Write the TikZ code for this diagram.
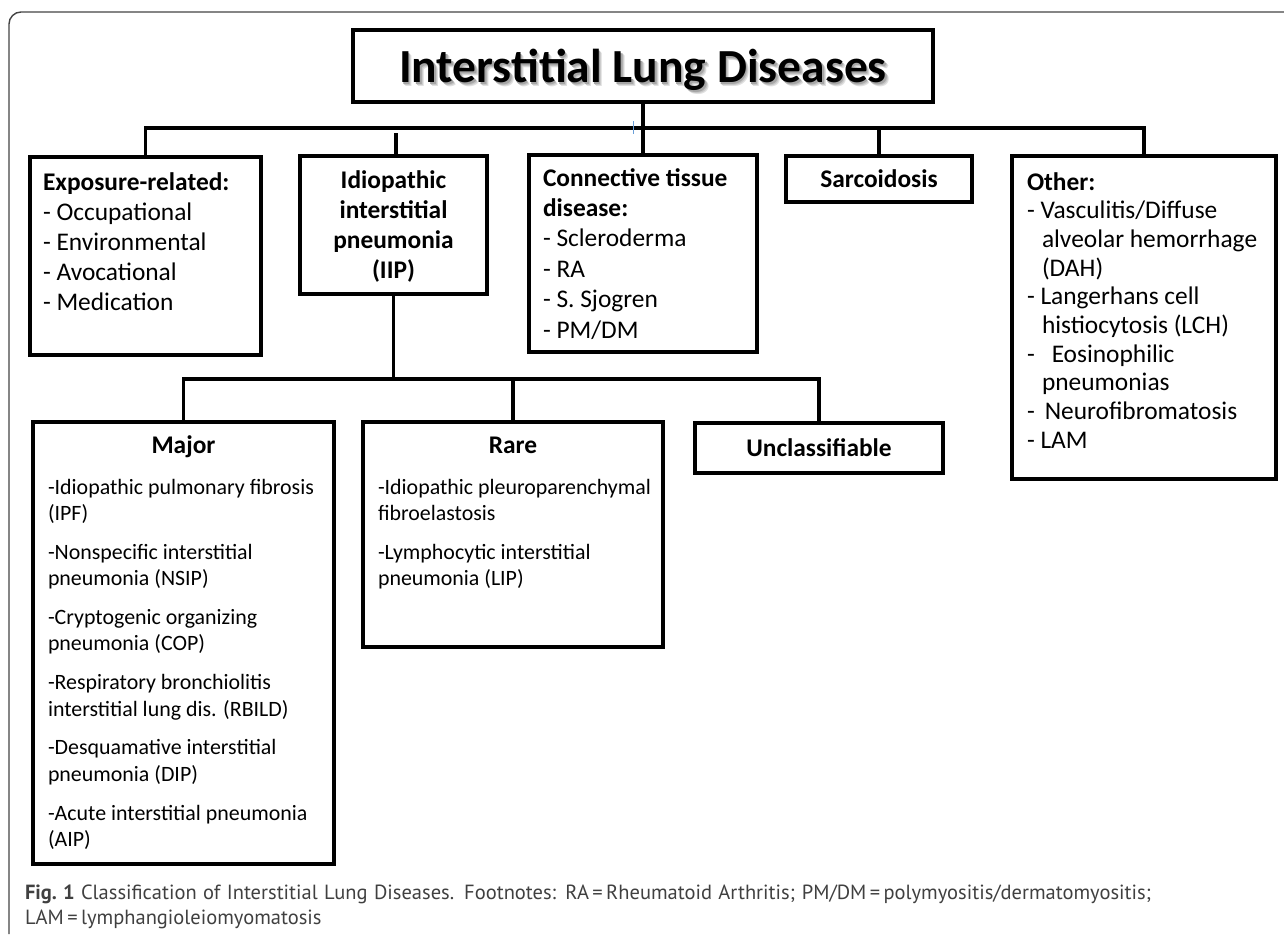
\documentclass[tikz,border=0pt]{standalone}
\usepackage{fontspec}
\setmainfont{Carlito}
\newfontfamily\capfont{PT Sans}
\definecolor{capgray}{HTML}{404040}
\definecolor{frame}{HTML}{444444}
\definecolor{tick}{HTML}{6A9FD8}
\newcommand{\ttltext}{Interstitial Lung Diseases}
\newcommand{\shadowlayer}[3]{\rlap{\hspace{#1pt}\raisebox{-#2pt}{\color{#3}\ttltext}}}
\begin{document}
\begin{tikzpicture}[x=1pt,y=-1pt,
  boxst/.style={draw, line width=3.6pt, inner sep=0, outer sep=0, anchor=north west},
  conn/.style={line width=3.8pt, line cap=rect},
  txt/.style={inner sep=0, outer sep=0, anchor=base west},
  ctxt/.style={inner sep=0, outer sep=0, anchor=base},
  titlefont/.style={font=\fontsize{47.5}{52}\selectfont\bfseries},
]
\useasboundingbox (0,0) rectangle (1284,934);
% outer frame
\draw[frame, line width=1.4pt, rounded corners=12pt] (9,934) -- (9,12) -- (1284,12);

% boxes
\node[boxst, minimum width=580pt, minimum height=72pt] (title) at (353,30) {};
\node[boxst, minimum width=231pt, minimum height=198pt] (expo) at (30,157) {};
\node[boxst, minimum width=187pt, minimum height=138pt] (iip) at (300,156) {};
\node[boxst, minimum width=228pt, minimum height=197pt] (ctd) at (529,155) {};
\node[boxst, minimum width=186pt, minimum height=46pt] (sarc) at (786,156) {};
\node[boxst, minimum width=264pt, minimum height=323pt] (other) at (1012,156) {};
\node[boxst, minimum width=301pt, minimum height=442pt] (major) at (33,422) {};
\node[boxst, minimum width=300pt, minimum height=225pt] (rare) at (363,422) {};
\node[boxst, minimum width=248pt, minimum height=50pt] (uncl) at (695,423) {};

% bus coordinates
\coordinate (busA) at (0,128);
\coordinate (busB) at (0,379);

% connectors
\draw[conn] (title.south) -- (ctd.north);
\draw[conn] (expo.north) -- (expo.north |- busA) -| (other.north);
\draw[conn] (sarc.north) -- (sarc.north |- busA);
\draw[conn] ([xshift=2.5pt]iip.north) -- ++(0,-21);
\draw[conn] (iip.south) -- (iip.south |- busB);
\draw[conn] (major.north) -- (major.north |- busB) -| (uncl.north);
\draw[conn] (rare.north) -- (rare.north |- busB);
\draw[tick, line width=0.8pt] (633,121) -- (633,134);

% title text with soft shadow (one node)
\node[ctxt, titlefont] (titlet) at (643,82) {\shadowlayer{3.5}{4.5}{black!12}\shadowlayer{2.5}{3.5}{black!22}\shadowlayer{1.5}{2.5}{black!35}\ttltext};

% upper row texts
\node[txt] (expot) at (43,190) {\parbox[t]{215pt}{\fontsize{25.4}{30}\selectfont
  \textbf{Exposure-related:}\\
  - Occupational\\
  - Environmental\\
  - Avocational\\
  - Medication}};
\node[ctxt] (iipt) at (393.5,188) {\parbox[t]{187pt}{\centering\fontsize{25.4}{30.2}\selectfont\bfseries
  Idiopathic\\ interstitial\\ pneumonia\\ (IIP)}};
\node[txt] (ctdt) at (543,186) {\parbox[t]{215pt}{\fontsize{25.4}{30.4}\selectfont
  \textbf{Connective tissue}\\
  \textbf{disease:}\\
  - Scleroderma\\
  - RA\\
  - S. Sjogren\\
  - PM/DM}};
\node[ctxt, font=\fontsize{25.4}{28}\selectfont\bfseries] (sarct) at (879,187) {Sarcoidosis};
\node[txt] (othert) at (1027,190) {\parbox[t]{250pt}{\fontsize{25.4}{28.7}\selectfont
  \textbf{Other:}\\
  - Vasculitis/Diffuse\\
  \hspace*{15pt}alveolar hemorrhage\\
  \hspace*{15pt}(DAH)\\
  - Langerhans cell\\
  \hspace*{15pt}histiocytosis (LCH)\\
  -\hspace*{17pt}Eosinophilic\\
  \hspace*{15pt}pneumonias\\
  -\hspace*{10pt}Neurofibromatosis\\
  - LAM}};

% lower row texts
\node[ctxt, font=\fontsize{25.4}{28}\selectfont\bfseries] (majorh) at (183.5,453) {Major};
\node[txt] (majort) at (48,494) {\parbox[t]{285pt}{\fontsize{21.9}{26.5}\selectfont
  -Idiopathic pulmonary fibrosis\\ (IPF)\\[12.2pt]
  -Nonspecific interstitial\\ pneumonia (NSIP)\\[12.2pt]
  -Cryptogenic organizing\\ pneumonia (COP)\\[12.2pt]
  -Respiratory bronchiolitis\\ interstitial lung dis. (RBILD)\\[12.2pt]
  -Desquamative interstitial\\ pneumonia (DIP)\\[12.2pt]
  -Acute interstitial pneumonia\\ (AIP)}};
\node[ctxt, font=\fontsize{25.4}{28}\selectfont\bfseries] (rareh) at (513,453) {Rare};
\node[txt] (raret) at (378,494) {\parbox[t]{285pt}{\fontsize{21.9}{26.5}\selectfont
  -Idiopathic pleuroparenchymal\\ fibroelastosis\\[12.2pt]
  -Lymphocytic interstitial\\ pneumonia (LIP)}};
\node[ctxt, font=\fontsize{25.4}{28}\selectfont\bfseries] (unclt) at (819,456) {Unclassifiable};

% caption
\node[txt, text=capgray] (caption) at (25,899.5) {\parbox[t]{1126pt}{\capfont\fontsize{20.5}{25}\selectfont
  \makebox[1126pt][s]{\textbf{Fig.~1} Classification of Interstitial Lung Diseases. Footnotes: RA\,=\,Rheumatoid Arthritis; PM/DM\,=\,polymyositis/dermatomyositis;}\\
  LAM\,=\,lymphangioleiomyomatosis}};
\end{tikzpicture}
\end{document}
